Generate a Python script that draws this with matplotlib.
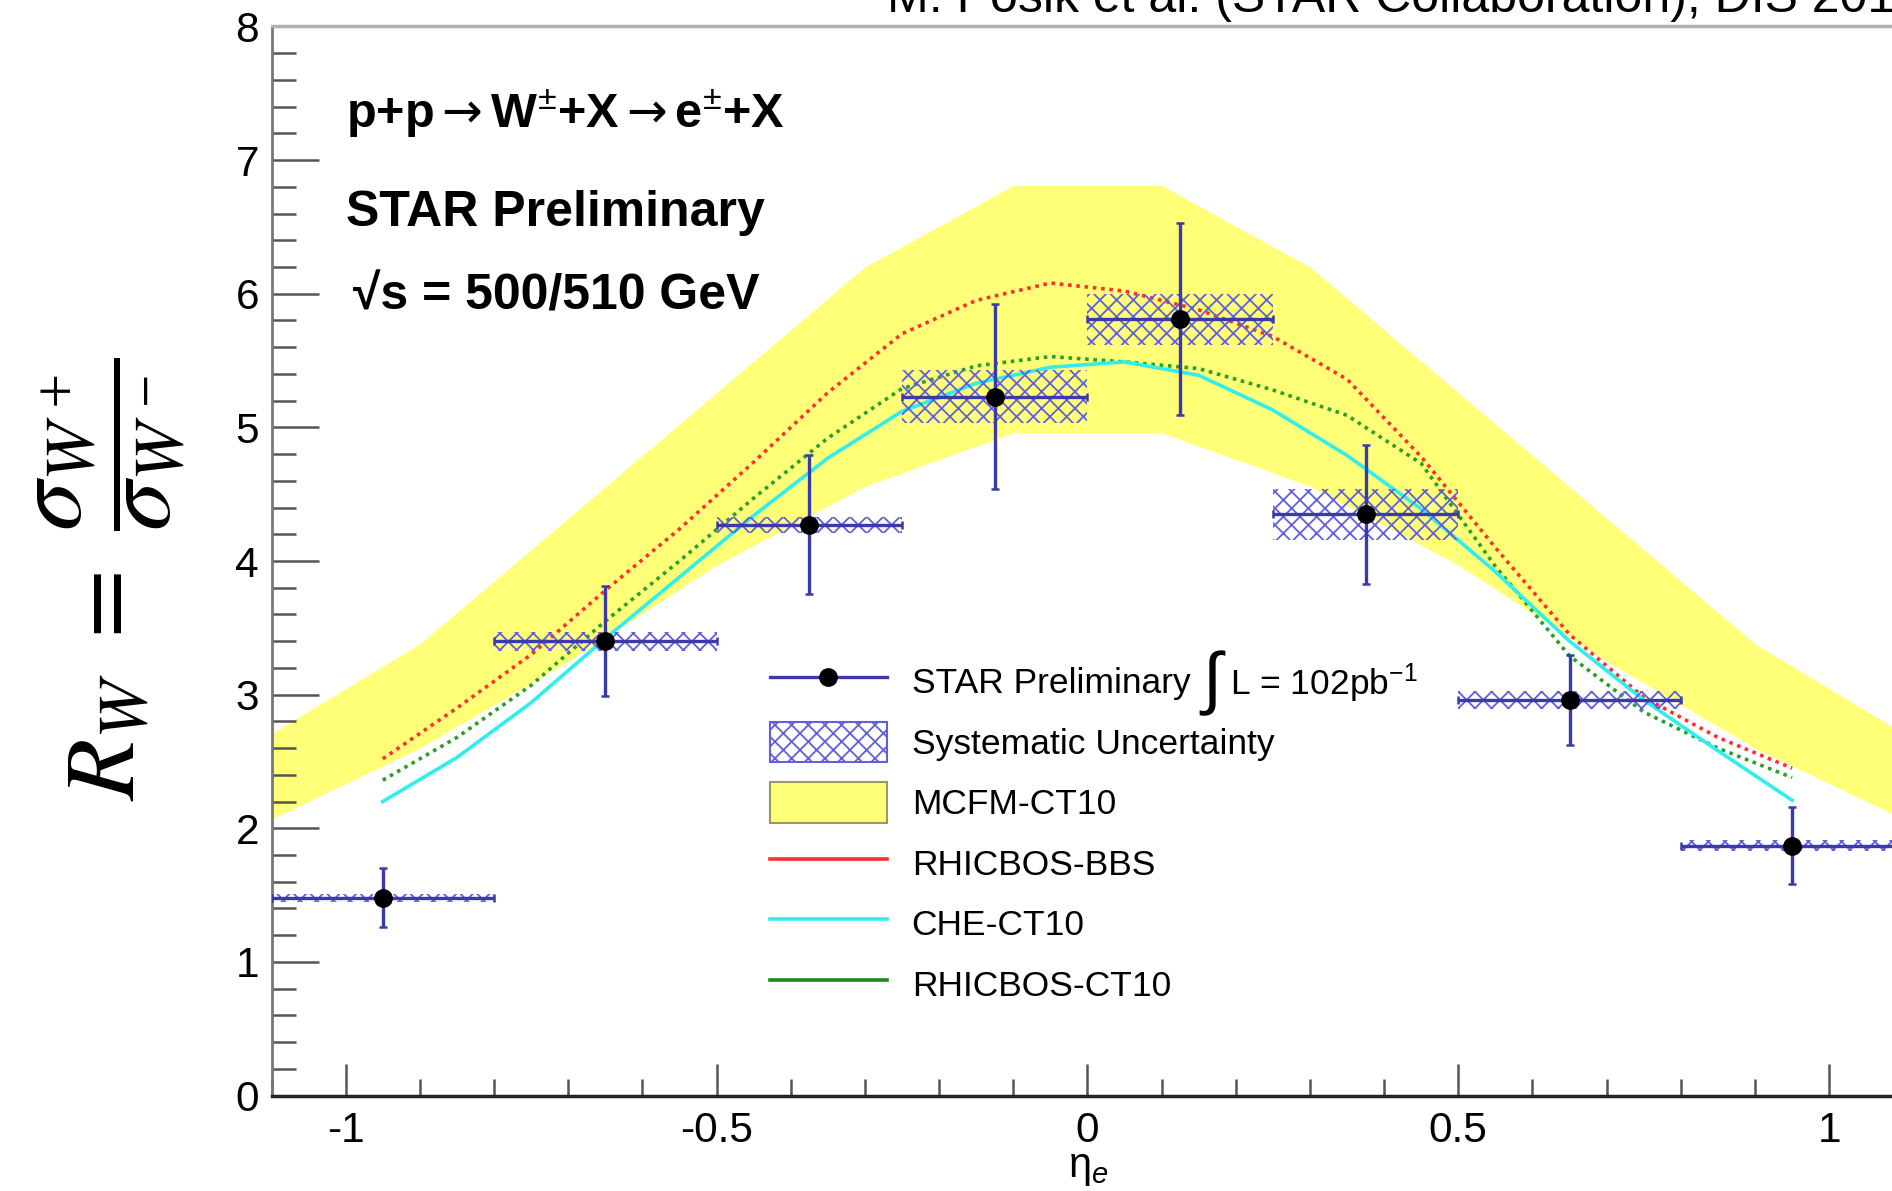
import matplotlib
matplotlib.use("Agg")
import matplotlib.pyplot as plt
import numpy as np
from matplotlib.lines import Line2D
from matplotlib.patches import Patch
from matplotlib.ticker import MultipleLocator

plt.rcParams["font.family"] = ["Liberation Sans", "DejaVu Sans"]
plt.rcParams["mathtext.fontset"] = "custom"
plt.rcParams["mathtext.rm"] = "Liberation Sans"
plt.rcParams["mathtext.bf"] = "Liberation Sans:bold"
plt.rcParams["mathtext.it"] = "Liberation Sans:italic"
plt.rcParams["mathtext.sf"] = "DejaVu Sans"
plt.rcParams["mathtext.fallback"] = "stix"
plt.rcParams["axes.unicode_minus"] = False
plt.rcParams["hatch.linewidth"] = 1.3

# STAR points: bins in eta_e, ratio, stat and syst errors
eta_lo = [-1.1, -0.8, -0.5, -0.25, 0.0, 0.25, 0.5, 0.8]
eta_hi = [-0.8, -0.5, -0.25, 0.0, 0.25, 0.5, 0.8, 1.1]
eta_pt = [-0.95, -0.65, -0.375, -0.125, 0.125, 0.375, 0.65, 0.95]
rw = [1.48, 3.40, 4.27, 5.23, 5.81, 4.35, 2.96, 1.87]
stat = [0.22, 0.41, 0.52, 0.69, 0.72, 0.52, 0.34, 0.29]
syst = [0.03, 0.07, 0.06, 0.20, 0.19, 0.19, 0.07, 0.04]

# MCFM-CT10 band edges
band_eta = [-1.1, -0.9, -0.7, -0.5, -0.3, -0.1, 0.1, 0.3, 0.5, 0.7, 0.9, 1.1]
band_hi = [2.71, 3.38, 4.32, 5.26, 6.20, 6.81, 6.81, 6.20, 5.26, 4.32, 3.38, 2.71]
band_lo = [2.07, 2.60, 3.25, 3.97, 4.56, 4.96, 4.96, 4.56, 3.97, 3.25, 2.60, 2.07]

# theory curves
curve_eta = [-0.95, -0.85, -0.75, -0.65, -0.55, -0.45, -0.35, -0.25, -0.15, -0.05,
             0.05, 0.15, 0.25, 0.35, 0.45, 0.55, 0.65, 0.75, 0.85, 0.95]
rhicbos_bbs = [2.52, 2.90, 3.30, 3.78, 4.24, 4.74, 5.26, 5.70, 5.95, 6.08,
               6.02, 5.88, 5.68, 5.36, 4.78, 4.10, 3.45, 2.98, 2.68, 2.45]
che_ct10 = [2.20, 2.53, 2.94, 3.42, 3.88, 4.34, 4.77, 5.12, 5.33, 5.45,
            5.49, 5.39, 5.13, 4.79, 4.39, 3.92, 3.40, 2.96, 2.58, 2.21]
rhicbos_ct10 = [2.36, 2.68, 3.07, 3.55, 4.00, 4.47, 4.92, 5.29, 5.46, 5.53,
                5.49, 5.44, 5.28, 5.09, 4.73, 3.96, 3.29, 2.87, 2.60, 2.38]

blue = "#3a3aac"
hatch_blue = "#6060dc"
yellow = "#ffff78"
red = "#ff3030"
cyan = "#30eeee"
green = "#2aa02a"

fig = plt.figure(figsize=(18.92, 11.91), dpi=100)
ax = fig.add_axes([0.1435, 0.0801, 0.8625, 0.8977])

ax.fill_between(band_eta, band_lo, band_hi, color=yellow, lw=0, zorder=1)

ax.plot(curve_eta, rhicbos_bbs, color=red, lw=2.6, ls=(0, (1, 1.3)), zorder=2)
ax.plot(curve_eta, rhicbos_ct10, color=green, lw=2.6, ls=(0, (1, 1.3)), zorder=2)
ax.plot(curve_eta, che_ct10, color=cyan, lw=2.6, zorder=2)

lo = np.array(eta_lo)
hi = np.array(eta_hi)
y = np.array(rw)
s = np.array(syst)
ax.bar((lo + hi) / 2, 2 * s, bottom=y - s, width=hi - lo, fill=False,
       hatch="xx", edgecolor=hatch_blue, lw=0, zorder=3)

xc = np.array(eta_pt)
ax.errorbar(xc, y, yerr=stat, xerr=[xc - lo, hi - xc], fmt="o", color="black",
            ms=12.5, ecolor=blue, elinewidth=2.4, capsize=3, capthick=1.8, zorder=4)

ax.set_xlim(-1.1, 1.1)
ax.set_ylim(0, 8)
ax.xaxis.set_major_locator(MultipleLocator(0.5))
ax.xaxis.set_minor_locator(MultipleLocator(0.1))
ax.yaxis.set_major_locator(MultipleLocator(1))
ax.yaxis.set_minor_locator(MultipleLocator(0.2))
ax.xaxis.set_major_formatter(matplotlib.ticker.FuncFormatter(lambda v, p: "%g" % v))
ax.tick_params(axis="both", which="both", direction="in", colors="#555555",
               labelcolor="black", labelsize=30.5, top=False, right=False)
ax.tick_params(axis="y", which="major", length=34, width=1.8, pad=9)
ax.tick_params(axis="y", which="minor", length=17, width=1.8)
ax.tick_params(axis="x", which="major", length=23, width=1.8, pad=11)
ax.tick_params(axis="x", which="minor", length=12, width=1.8)
ax.spines["top"].set_color("#b0b0b0")
ax.spines["top"].set_linewidth(2.5)
ax.spines["left"].set_color("#777777")
ax.spines["left"].set_linewidth(2)
ax.spines["bottom"].set_color("#222222")
ax.spines["bottom"].set_linewidth(2.5)

arrow = "$\\mathsf{\\rightarrow}$"
ax.text(-1.0, 7.24, "p+p" + arrow + "W$^{\\pm}$+X" + arrow + "e$^{\\pm}$+X",
        fontsize=35, fontweight="bold", va="baseline")
ax.text(-1.0, 6.51, "STAR Preliminary", fontsize=36, fontweight="bold", va="baseline")
ax.text(-0.99, 5.88, "√s = 500/510 GeV", fontsize=36, fontweight="bold", va="baseline")

handles = [
    Line2D([], [], color=blue, lw=2.4, marker="o", mfc="black", mec="black", ms=12.5),
    Patch(facecolor="white", edgecolor=hatch_blue, hatch="xx", lw=1.5),
    Patch(facecolor=yellow, edgecolor="#9a9a60", lw=1.5),
    Line2D([], [], color=red, lw=2.6),
    Line2D([], [], color=cyan, lw=2.6),
    Line2D([], [], color="#1f8a1f", lw=2.6),
]
labels = ["STAR Preliminary", "Systematic Uncertainty", "MCFM-CT10",
          "RHICBOS-BBS", "CHE-CT10", "RHICBOS-CT10"]
leg = ax.legend(handles, labels, loc="upper left", bbox_to_anchor=(0.3055, 0.4063),
                frameon=False, fontsize=25.5, handlelength=3.3, handleheight=1.37,
                handletextpad=0.7, labelspacing=0.575, borderpad=0, borderaxespad=0)

fig.text(0.059, 0.514, r"$R_W\ =\ \dfrac{\sigma_{W^+}}{\sigma_{W^-}}$", rotation=90,
         fontsize=72, math_fontfamily="stix", ha="center", va="center")
fig.text(0.575, 0.019, "η$_e$", fontsize=30, ha="center", va="center")
fig.text(0.4688, 0.9899, "M. Posik et al. (STAR Collaboration), DIS 2015", fontsize=36,
         va="baseline")

# integral sign and luminosity after the first legend entry
fig.canvas.draw()
bb = leg.get_texts()[0].get_window_extent()
W, H = fig.bbox.width, fig.bbox.height
yc = (bb.y0 + bb.y1) / 2
fig.text((bb.x1 + 12) / W, yc / H, "∫", fontsize=50, va="center")
fig.text((bb.x1 + 40) / W, yc / H, "L = 102pb$^{-1}$", fontsize=25.5, va="center")

fig.savefig("out.png", dpi=100)
